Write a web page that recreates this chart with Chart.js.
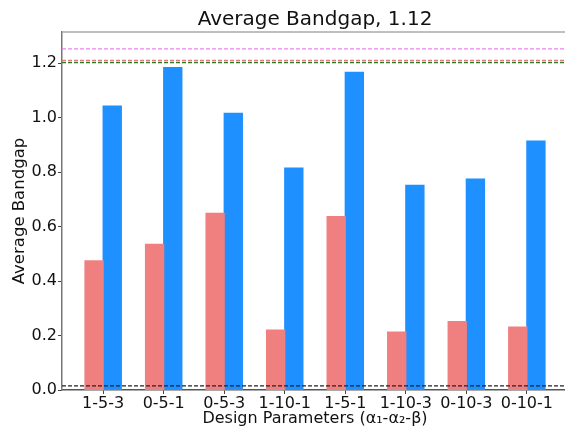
<!DOCTYPE html>
<html>
<head>
<meta charset="utf-8">
<script src="https://cdn.jsdelivr.net/npm/chart.js@4.4.1/dist/chart.umd.min.js"></script>
<style>
  html, body { margin: 0; padding: 0; overflow: hidden; background: #fff; }
  #wrap { width: 568px; height: 432px; position: relative; }
</style>
</head>
<body>
<div id="wrap"><canvas id="myCan"></canvas></div>
<script>
// values
var categories = ['1-5-3', '0-5-1', '0-5-3', '1-10-1', '1-5-1', '1-10-3', '0-10-3', '0-10-1'];
var lowVals  = [0.474, 0.535, 0.649, 0.220, 0.637, 0.213, 0.251, 0.231];
var highVals = [1.043, 1.184, 1.016, 0.815, 1.167, 0.752, 0.775, 0.914];
var refVals   = [1.253, 1.211, 1.203, 0.015];
var refColors = ['#ee82ee', '#e07a7a', '#2a7a2a', '#222222'];
var yTicks = [0, 0.2, 0.4, 0.6, 0.8, 1.0, 1.2];
var xMin = -0.68, xMax = 7.68;
var yMax = 1.315;

var chartTitle = 'Average Bandgap, 1.12';
var vxLabel = 'Design Parameters (\u03b1\u2081-\u03b1\u2082-\u03b2)';
var vyLabel = 'Average Bandgap';

var fontFam = "'DejaVu Sans', sans-serif";

function toPoints(vals) {
  return vals.map(function (v, i) { return { x: i, y: v }; });
}

var datasets = [
  { type: 'bar', data: toPoints(lowVals), backgroundColor: '#f08080', borderWidth: 0, inflateAmount: 0.6, order: 5 },
  { type: 'bar', data: toPoints(highVals), backgroundColor: '#1e90ff', borderWidth: 0, inflateAmount: 0.6, order: 5 }
];
refVals.forEach(function (v, k) {
  datasets.push({
    type: 'line',
    data: [{ x: xMin, y: v }, { x: xMax, y: v }],
    borderColor: refColors[k],
    borderWidth: 1.3,
    borderDash: [4, 2],
    pointRadius: 0,
    fill: false,
    order: 0
  });
});

var framePlugin = {
  id: 'frame',
  afterDraw: function (chart) {
    var a = chart.chartArea, c = chart.ctx;
    c.save();
    c.strokeStyle = '#aaaaaa';
    c.lineWidth = 1.5;
    c.beginPath();
    c.moveTo(a.left, a.top);
    c.lineTo(a.right, a.top);
    c.lineTo(a.right, a.bottom);
    c.stroke();
    c.restore();
  }
};

var ctxx = document.getElementById('myCan').getContext('2d');
var xChart = new Chart(ctxx, {
  type: 'bar',
  data: { datasets: datasets },
  plugins: [framePlugin],
  options: {
    responsive: true,
    maintainAspectRatio: false,
    animation: false,
    layout: { padding: 0 },
    datasets: { bar: { categoryPercentage: 0.6, barPercentage: 1.0 } },
    plugins: {
      legend: { display: false },
      tooltip: { enabled: false },
      title: {
        display: true,
        fullSize: false,
        text: chartTitle,
        color: '#111',
        font: { family: fontFam, size: 20, weight: 'normal' },
        padding: { top: 8, bottom: 0 }
      }
    },
    scales: {
      x: {
        type: 'linear',
        min: xMin,
        max: xMax,
        offset: false,
        afterFit: function (s) { s.height = 42; },
        afterBuildTicks: function (s) {
          s.ticks = categories.map(function (c, i) { return { value: i }; });
        },
        ticks: {
          autoSkip: false,
          maxRotation: 0,
          padding: 0,
          color: '#111',
          font: { family: fontFam, size: 16 },
          callback: function (v) { return categories[v]; }
        },
        grid: { offset: false, drawOnChartArea: false, tickLength: 4, color: '#444', tickWidth: 1 },
        border: { display: true, color: '#555', width: 1.5 },
        title: {
          display: true,
          text: vxLabel,
          color: '#111',
          font: { family: fontFam, size: 16 },
          padding: { top: 0, bottom: 4 }
        }
      },
      y: {
        min: 0,
        max: yMax,
        afterFit: function (s) { s.width = 62; },
        afterBuildTicks: function (s) {
          s.ticks = yTicks.map(function (v) { return { value: v }; });
        },
        ticks: {
          padding: 1,
          color: '#111',
          font: { family: fontFam, size: 16 },
          callback: function (v) { return v.toFixed(1); }
        },
        grid: { drawOnChartArea: false, tickLength: 4, color: '#444', tickWidth: 1 },
        border: { display: true, color: '#777', width: 1.5 },
        title: {
          display: true,
          text: vyLabel,
          color: '#111',
          font: { family: fontFam, size: 16.5 },
          padding: { top: 10, bottom: 0 }
        }
      }
    }
  }
});
</script>
</body>
</html>
